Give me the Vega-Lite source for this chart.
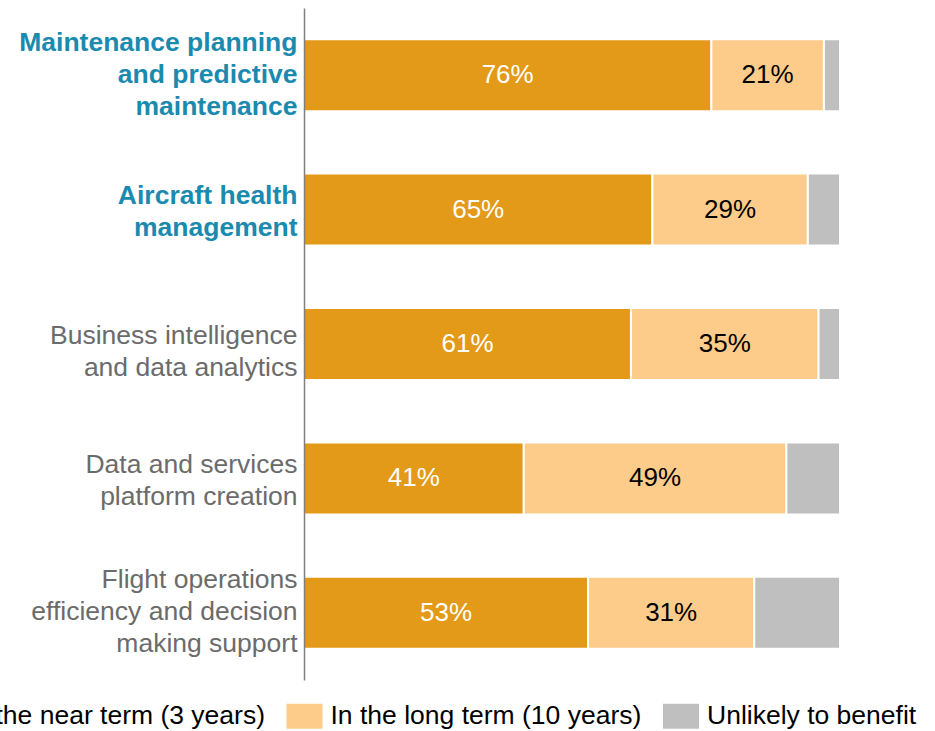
{
  "$schema": "https://vega.github.io/schema/vega-lite/v6.json",
  "width": 536,
  "height": 672,
  "autosize": "none",
  "padding": {"left": 304, "top": 8, "right": 95, "bottom": 51},
  "background": "white",
  "config": {"view": {"stroke": null}, "font": "Liberation Sans"},
  "data": {
    "values": [
      {"cat": "Maintenance planning|and predictive|maintenance", "series": "In the near term (3 years)", "value": 76, "ord": 1},
      {"cat": "Maintenance planning|and predictive|maintenance", "series": "In the long term (10 years)", "value": 21, "ord": 2},
      {"cat": "Maintenance planning|and predictive|maintenance", "series": "Unlikely to benefit", "value": 3, "ord": 3},
      {"cat": "Aircraft health|management", "series": "In the near term (3 years)", "value": 65, "ord": 1},
      {"cat": "Aircraft health|management", "series": "In the long term (10 years)", "value": 29, "ord": 2},
      {"cat": "Aircraft health|management", "series": "Unlikely to benefit", "value": 6, "ord": 3},
      {"cat": "Business intelligence|and data analytics", "series": "In the near term (3 years)", "value": 61, "ord": 1},
      {"cat": "Business intelligence|and data analytics", "series": "In the long term (10 years)", "value": 35, "ord": 2},
      {"cat": "Business intelligence|and data analytics", "series": "Unlikely to benefit", "value": 4, "ord": 3},
      {"cat": "Data and services|platform creation", "series": "In the near term (3 years)", "value": 41, "ord": 1},
      {"cat": "Data and services|platform creation", "series": "In the long term (10 years)", "value": 49, "ord": 2},
      {"cat": "Data and services|platform creation", "series": "Unlikely to benefit", "value": 10, "ord": 3},
      {"cat": "Flight operations|efficiency and decision|making support", "series": "In the near term (3 years)", "value": 53, "ord": 1},
      {"cat": "Flight operations|efficiency and decision|making support", "series": "In the long term (10 years)", "value": 31, "ord": 2},
      {"cat": "Flight operations|efficiency and decision|making support", "series": "Unlikely to benefit", "value": 16, "ord": 3}
    ]
  },
  "transform": [
    {"stack": "value", "groupby": ["cat"], "sort": [{"field": "ord"}], "as": ["x0", "x1"]},
    {"calculate": "(datum.x0 + datum.x1) / 2", "as": "mid"},
    {"calculate": "datum.value + '%'", "as": "pct"}
  ],
  "encoding": {
    "y": {
      "field": "cat",
      "type": "nominal",
      "sort": null,
      "title": null,
      "scale": {"paddingInner": 0.464, "paddingOuter": 0.232},
      "axis": {
        "zindex": 2,
        "labelExpr": "split(datum.label, '|')",
        "labelFontSize": 26.5,
        "labelLineHeight": 32,
        "labelColor": {"condition": {"test": "indexof(datum.value, 'Maintenance') == 0 || indexof(datum.value, 'Aircraft') == 0", "value": "#1A8AAF"}, "value": "#6b6b6b"},
        "labelFontWeight": {"condition": {"test": "indexof(datum.value, 'Maintenance') == 0 || indexof(datum.value, 'Aircraft') == 0", "value": "bold"}, "value": "normal"},
        "labelOffset": {
          "condition": [
            {"test": "indexof(datum.value, 'Maintenance') == 0", "value": -32.5},
            {"test": "indexof(datum.value, 'Flight') == 0", "value": -33},
            {"test": "indexof(datum.value, 'Business') == 0", "value": -8}
          ],
          "value": -13.5
        },
        "labelPadding": 7,
        "labelLimit": 400,
        "ticks": false,
        "domainColor": "#7f7f7f",
        "domainWidth": 1.5,
        "grid": false
      }
    }
  },
  "layer": [
    {
      "mark": {"type": "bar", "stroke": "white", "strokeWidth": 2},
      "encoding": {
        "x": {"field": "x0", "type": "quantitative", "scale": {"domain": [0, 100]}, "axis": null},
        "x2": {"field": "x1"},
        "color": {
          "field": "series",
          "type": "nominal",
          "sort": ["In the near term (3 years)", "In the long term (10 years)", "Unlikely to benefit"],
          "scale": {
            "domain": ["In the near term (3 years)", "In the long term (10 years)", "Unlikely to benefit"],
            "range": ["#E29A18", "#FECC8A", "#BFBFBF"]
          },
          "legend": {
            "title": null,
            "orient": "none",
            "direction": "horizontal",
            "legendX": -382,
            "legendY": 690,
            "padding": 0,
            "symbolType": "M-1,-0.694H1V0.694H-1Z",
            "symbolSize": 1296,
            "symbolStrokeWidth": 0,
            "symbolOpacity": 1,
            "labelFontSize": 26.5,
            "labelColor": "#000000",
            "labelOffset": 8,
            "labelLimit": 500,
            "columnPadding": 21.5
          }
        }
      }
    },
    {
      "transform": [{"filter": "datum.ord < 3"}],
      "mark": {"type": "text", "fontSize": 26, "baseline": "middle", "align": "center"},
      "encoding": {
        "x": {"field": "mid", "type": "quantitative"},
        "text": {"field": "pct", "type": "nominal"},
        "color": {"condition": {"test": "datum.ord == 1", "value": "white"}, "value": "black"}
      }
    }
  ]
}
